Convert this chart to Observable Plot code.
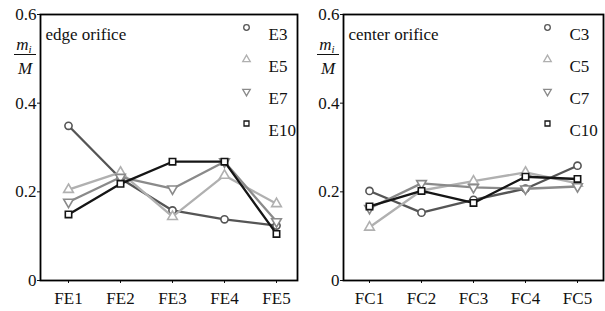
<!DOCTYPE html>
<html>
<head>
<meta charset="utf-8">
<script src="https://cdn.jsdelivr.net/npm/d3@7"></script>
<script src="https://cdn.jsdelivr.net/npm/@observablehq/plot@0.6"></script>
</head>
<body style="margin:0;font-family:'Liberation Serif',serif">
<div id="wrap" style="display:flex;width:605px;height:311px;overflow:hidden;background:#fff"></div>
<script>
// ---- data ----
const edgeCategories = ["FE1", "FE2", "FE3", "FE4", "FE5"];
const centerCategories = ["FC1", "FC2", "FC3", "FC4", "FC5"];
const edgeSeriesNames = ["E3", "E5", "E7", "E10"];
const centerSeriesNames = ["C3", "C5", "C7", "C10"];
const E3 = [0.349, 0.230, 0.158, 0.138, 0.124];
const E5 = [0.205, 0.244, 0.144, 0.237, 0.173];
const E7 = [0.177, 0.233, 0.207, 0.268, 0.133];
const E10 = [0.149, 0.218, 0.268, 0.268, 0.105];
const C3 = [0.202, 0.153, 0.182, 0.207, 0.259];
const C5 = [0.120, 0.203, 0.224, 0.244, 0.219];
const C7 = [0.163, 0.219, 0.210, 0.207, 0.212];
const C10 = [0.167, 0.202, 0.175, 0.234, 0.229];
const yTicks = [0, 0.2, 0.4, 0.6];
const panelTitles = ["edge orifice", "center orifice"];

// ---- styles per series (by index) ----
const seriesColors = ["#555555", "#b0b0b0", "#8a8a8a", "#151515"];
const seriesSymbols = ["circle", "triangle", "triangle", "square"];
const seriesRotate = [0, 0, 180, 0];
const FONT = "Liberation Serif, serif";

function panel({categories, names, values, title, width, marginLeft, marginRight, insetLeft, insetRight, legendMarkerDx, legendTextDx}) {
  const marks = [];
  names.forEach((name, i) => {
    const data = categories.map((c, j) => ({cat: c, v: values[i][j]}));
    marks.push(Plot.line(data, {x: "cat", y: "v", stroke: seriesColors[i], strokeWidth: 2.3}));
    marks.push(Plot.dot(data, {x: "cat", y: "v", symbol: seriesSymbols[i], rotate: seriesRotate[i], r: 3.6,
      stroke: seriesColors[i], fill: "white", strokeWidth: 1.6}));
  });
  names.forEach((name, i) => {
    marks.push(Plot.dot([name], {frameAnchor: "top-right", dx: legendMarkerDx, dy: 13 + 32 * i,
      symbol: seriesSymbols[i], rotate: seriesRotate[i], r: 2.8, stroke: seriesColors[i], fill: "white", strokeWidth: 1.3}));
    marks.push(Plot.text([name], {text: d => d, frameAnchor: "top-right", dx: legendTextDx, dy: 13 + 32 * i,
      textAnchor: "start", fill: "#111", fontSize: 17, fontFamily: FONT}));
  });
  marks.push(Plot.text([title], {text: d => d, frameAnchor: "top-left", dx: 5, dy: 13, textAnchor: "start", fill: "#111", fontSize: 17, fontFamily: FONT}));
  marks.push(Plot.axisY({ticks: yTicks, tickSize: 3, tickPadding: 1, label: null,
    tickFormat: d => d === 0 ? "0" : d.toFixed(1), fontSize: 17, fontFamily: FONT}));
  marks.push(Plot.axisX({tickSize: 3, tickPadding: 8, label: null, fontSize: 17, fontFamily: FONT}));
  marks.push(Plot.frame({stroke: "#000", strokeWidth: 1.8}));

  const svg = Plot.plot({
    width, height: 311,
    marginTop: 14, marginBottom: 31, marginLeft, marginRight,
    style: {fontFamily: FONT, fontSize: "17px", color: "#111"},
    x: {type: "point", domain: categories, insetLeft, insetRight, padding: 0},
    y: {domain: [0, 0.6]},
    marks
  });
  const g = d3.select(svg).append("g").attr("fill", "#111");
  const cx = marginLeft - 15;
  const t = g.append("text").attr("x", cx - 1).attr("y", 50).attr("text-anchor", "middle")
    .attr("font-size", 17).attr("font-style", "italic");
  t.append("tspan").text("m");
  t.append("tspan").attr("font-size", 11).attr("dy", 3).text("i");
  g.append("line").attr("x1", cx - 11).attr("x2", cx + 11).attr("y1", 54.5).attr("y2", 54.5).attr("stroke", "#111").attr("stroke-width", 1);
  g.append("text").attr("x", cx).attr("y", 74).attr("text-anchor", "middle")
    .attr("font-size", 17).attr("font-style", "italic").text("M");
  d3.select(svg).attr("font-family", FONT).selectAll("text").style("font-family", FONT);
  svg.style.flex = "none";
  return svg;
}

const wrap = document.getElementById("wrap");
wrap.appendChild(panel({categories: edgeCategories, names: edgeSeriesNames, values: [E3, E5, E7, E10], title: panelTitles[0],
  width: 300, marginLeft: 40, marginRight: 3, insetLeft: 27, insetRight: 21, legendMarkerDx: -51, legendTextDx: -29}));
wrap.appendChild(panel({categories: centerCategories, names: centerSeriesNames, values: [C3, C5, C7, C10], title: panelTitles[1],
  width: 305, marginLeft: 43, marginRight: 2, insetLeft: 25, insetRight: 25, legendMarkerDx: -56, legendTextDx: -34}));
</script>
</body>
</html>
